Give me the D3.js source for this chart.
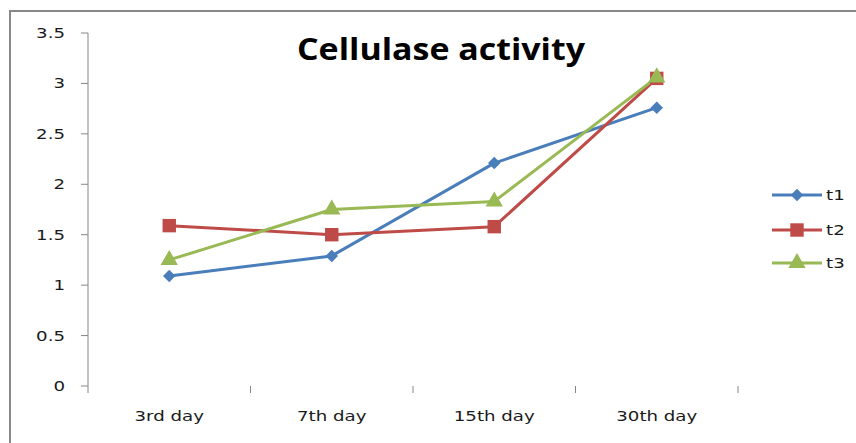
<!DOCTYPE html>
<html>
<head>
<meta charset="utf-8">
<script src="https://cdn.jsdelivr.net/npm/d3@7"></script>
<style>
  body { margin: 0; background: #fff; }
  svg { display: block; }
  .lbl { font-family: "DejaVu Sans", sans-serif; font-size: 14px; fill: #1a1a1a; }
</style>
</head>
<body>
<script>
const WIDTH = 856;
const HEIGHT = 443;
const STRETCH = 1.3;   // the picture's text is drawn wide

const days = ["3rd day", "7th day", "15th day", "30th day"];
const seriesNames = ["t1", "t2", "t3"];
const t1 = [1.09, 1.29, 2.21, 2.76];
const t2 = [1.59, 1.50, 1.58, 3.05];
const t3 = [1.25, 1.75, 1.83, 3.06];
const yTicks = [0, 0.5, 1, 1.5, 2, 2.5, 3, 3.5];
const colors = ["#4a7ebb", "#be4b48", "#98b954"];
const symbols = [d3.symbolSquare, d3.symbolSquare, d3.symbolTriangle];
const symSizes = [78, 180, 130];
const symRotate = [45, 0, 0];

const allSeries = [t1, t2, t3];

let svg = d3.select("body")
            .append("svg")
            .attr("width", WIDTH)
            .attr("height", HEIGHT);

// outer chart border (only top and left show in the picture)
svg.append("rect")
   .attr("x", 10).attr("y", 11)
   .attr("width", 860).attr("height", 450)
   .attr("fill", "none")
   .attr("stroke", "#888")
   .attr("stroke-width", 2);

let x = d3.scaleBand().domain(days).range([88, 738]);
let y = d3.scaleLinear().domain([0, 3.5]).range([386, 33]);

// y axis
svg.append("line")
   .attr("x1", 88).attr("x2", 88)
   .attr("y1", y(3.5)).attr("y2", 393)
   .attr("stroke", "#868686");

svg.selectAll("line.ytick")
   .data(yTicks).enter()
   .append("line")
   .attr("class", "ytick")
   .attr("x1", 81).attr("x2", 88)
   .attr("y1", d => y(d)).attr("y2", d => y(d))
   .attr("stroke", "#868686");

svg.selectAll("g.ylab")
   .data(yTicks).enter()
   .append("g")
   .attr("class", "ylab")
   .attr("transform", d => `translate(65,${y(d) + 5}) scale(${STRETCH},1)`)
   .append("text")
   .attr("class", "lbl")
   .attr("text-anchor", "end")
   .text(d => d);

// x ticks (no axis line in the picture)
svg.selectAll("line.xtick")
   .data(days).enter()
   .append("line")
   .attr("class", "xtick")
   .attr("x1", d => x(d) + x.bandwidth())
   .attr("x2", d => x(d) + x.bandwidth())
   .attr("y1", 386).attr("y2", 393)
   .attr("stroke", "#868686");

svg.selectAll("g.xlab")
   .data(days).enter()
   .append("g")
   .attr("class", "xlab")
   .attr("transform", d => `translate(${x(d) + x.bandwidth() / 2},421) scale(${STRETCH},1)`)
   .append("text")
   .attr("class", "lbl")
   .attr("text-anchor", "middle")
   .text(d => d);

// series
const cx = d => x(d) + x.bandwidth() / 2;
let line = d3.line()
             .x((d, i) => cx(days[i]))
             .y(d => y(d));

allSeries.forEach((vals, s) => {
  svg.append("path")
     .datum(vals)
     .attr("d", line)
     .attr("fill", "none")
     .attr("stroke", colors[s])
     .attr("stroke-width", 3)
     .attr("stroke-linejoin", "round");
});

allSeries.forEach((vals, s) => {
  svg.selectAll(null)
     .data(vals).enter()
     .append("path")
     .attr("d", d3.symbol().type(symbols[s]).size(symSizes[s]))
     .attr("transform", (d, i) => `translate(${cx(days[i])},${y(d)}) rotate(${symRotate[s]})`)
     .attr("fill", colors[s]);
});

// legend
const legendY = [195, 230, 263];
seriesNames.forEach((name, s) => {
  let g = svg.append("g").attr("transform", `translate(772,${legendY[s]})`);
  g.append("line")
   .attr("x1", 0).attr("x2", 50)
   .attr("stroke", colors[s]).attr("stroke-width", 3);
  g.append("path")
   .attr("d", d3.symbol().type(symbols[s]).size(symSizes[s]))
   .attr("transform", `translate(25,0) rotate(${symRotate[s]})`)
   .attr("fill", colors[s]);
  g.append("g")
   .attr("transform", `translate(54,5) scale(${STRETCH},1)`)
   .append("text")
   .attr("class", "lbl")
   .text(name);
});

// title
let title = svg.append("text")
   .attr("x", 441).attr("y", 60)
   .attr("text-anchor", "middle")
   .attr("font-family", "'Open Sans', sans-serif")
   .attr("font-weight", "bold")
   .attr("font-size", 30)
   .attr("fill", "#000")
   .text("Cellulase activity");
title.attr("textLength", 288).attr("lengthAdjust", "spacingAndGlyphs");
</script>
</body>
</html>
